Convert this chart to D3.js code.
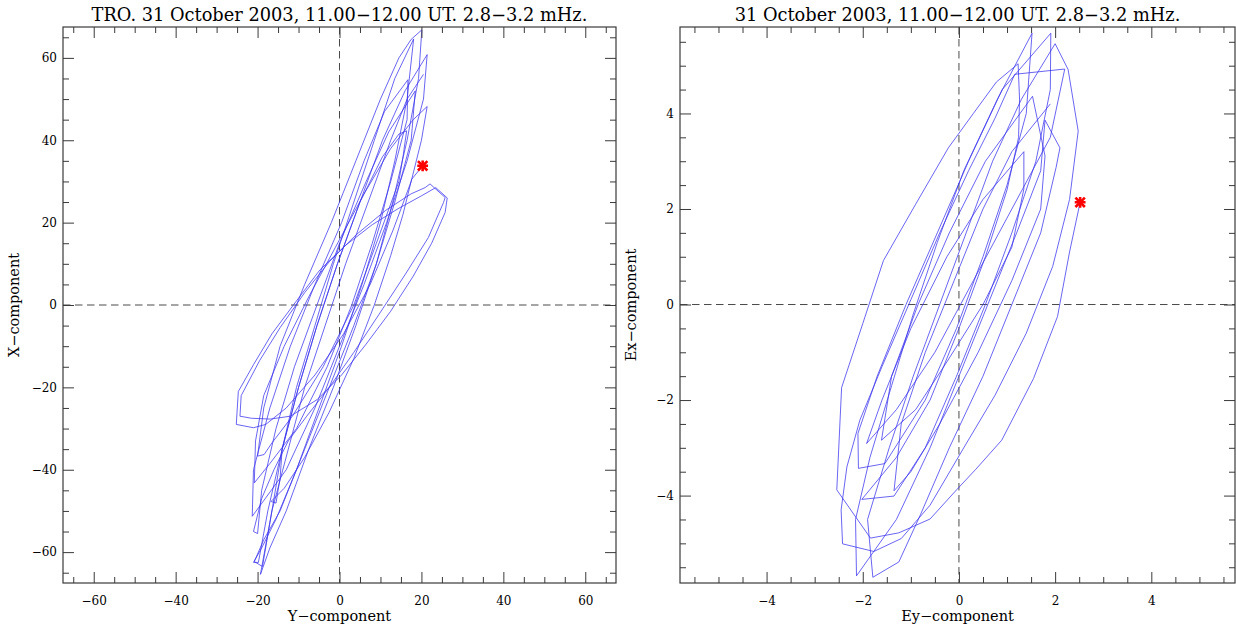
<!DOCTYPE html>
<html>
<head>
<meta charset="utf-8">
<script src="https://cdn.jsdelivr.net/npm/d3@7"></script>
<style>
  body { margin: 0; background: #fff; }
  svg { display: block; font-family: "DejaVu Serif", "Liberation Serif", serif; }
</style>
</head>
<body>
<svg id="chart" width="1236" height="628"></svg>
<script>
// ---- titles and axis names ----
const magTitle = "TRO. 31 October 2003, 11.00\u221212.00 UT. 2.8\u22123.2 mHz.";
const elecTitle = "31 October 2003, 11.00\u221212.00 UT. 2.8\u22123.2 mHz.";
const magXName = "Y\u2212component";
const magYName = "X\u2212component";
const elecXName = "Ey\u2212component";
const elecYName = "Ex\u2212component";

// ---- tick labels ----
const magTicks = [-60, -40, -20, 0, 20, 40, 60];
const elecTicks = [-4, -2, 0, 2, 4];

// ---- magnetic hodogram (nT): Y-component (horizontal) vs X-component (vertical) ----
const magY = [
  20.3, 17.6, 15.5, 12.5, 8.5, 3.5, -2.5, -8.5, -13.5, -16.7, -15.5,
  -14.5, -14.0, -10.0, -5.5, -0.5, 5.0, 10.5, 14.5, 16.4,
  15.5, 14.5, 9.0, 3.5, -4.0, -11.5, -16.5, -18.4, -20.0,
  -18.5, -14.5, -8.5, -2.0, 4.0, 10.0, 14.5, 17.5, 20.1,
  19.3, 16.5, 13.0, 9.0, 4.0, -1.5, -7.5, -13.0, -17.0, -19.3,
  -16.5, -14.0, -10.5, -6.0, -1.5, 3.5, 8.5, 13.5, 18.1,
  16.5, 13.5, 10.0, 5.5, 0.5, -5.0, -10.5, -15.5, -19.0, -21.0, -19.8,
  -17.5, -14.0, -10.0, -5.5, -0.5, 5.0, 10.5, 16.0, 21.4,
  20.5, 16.5, 11.5, 6.0, 0.0, -6.0, -13.0, -18.5, -21.3,
  -21.0, -17.0, -12.0, -6.0, 0.5, 6.0, 11.0, 16.7,
  16.5, 12.5, 8.0, 3.0, -3.0, -10.5, -17.0, -20.8,
  -20.5, -18.5, -13.5, -7.5, -1.0, 6.0, 12.5, 18.0, 21.4,
  20.0, 17.5, 13.0, 7.5, 1.0, -6.0, -13.0, -18.0, -21.0,
  -25.2, -24.7, -21.0, -16.5, -10.5, -4.8, 1.5, 8.0, 14.5, 20.0, 23.5, 26.3, 25.8,
  22.5, 18.0, 12.5, 6.5, 0.5, -5.5, -12.0, -16.9, -21.5, -24.3,
  -24.0, -19.5, -14.5, -8.5, -2.5, 4.0, 11.3, 17.5, 20.9, 22.1, 25.8, 25.4,
  21.7, 16.1, 9.7, 3.5, -2.5, -8.0, -12.5, -16.0, -19.0, -21.0, -20.0,
  -19.0, -15.5, -11.0, -5.5, 0.0, 6.5, 12.0, 18.5,
  17.5, 13.5, 9.0, 3.5, -2.5, -8.5, -14.5, -18.5, -20.8, -18.8,
  -16.5, -12.5, -8.5, -3.5, 1.5, 7.0, 12.5, 16.5, 20.5
];
const magX = [
  33.8, 30.5, 22.0, 12.0, 0.0, -13.0, -26.0, -37.0, -44.5, -47.7, -48.1,
  -42.0, -35.0, -20.0, -5.0, 10.0, 25.0, 36.0, 41.5, 42.3,
  36.0, 30.0, 15.0, 0.0, -15.0, -27.0, -33.5, -36.3, -36.7,
  -25.0, -10.0, 5.0, 20.0, 35.0, 50.0, 60.0, 64.5, 66.8,
  55.0, 40.0, 25.0, 10.0, -5.0, -20.0, -35.0, -50.0, -59.0, -65.4,
  -50.0, -35.0, -20.0, -5.0, 10.0, 25.0, 40.0, 55.0, 64.6,
  50.0, 35.0, 20.0, 5.0, -10.0, -25.0, -40.0, -52.0, -59.0, -62.5, -62.5,
  -50.0, -35.0, -20.0, -5.0, 10.0, 25.0, 40.0, 52.0, 60.8,
  50.0, 35.0, 20.0, 5.0, -10.0, -25.0, -40.0, -47.5, -51.3,
  -40.0, -25.0, -10.0, 5.0, 20.0, 35.0, 47.0, 54.7,
  45.0, 30.0, 15.0, 0.0, -15.0, -30.0, -38.5, -43.2,
  -33.0, -22.0, -10.0, 2.0, 14.0, 27.0, 38.0, 45.0, 48.2,
  40.0, 30.0, 18.0, 5.0, -7.0, -17.0, -25.0, -29.0, -29.8,
  -29.0, -21.0, -14.5, -7.0, 1.0, 8.5, 14.5, 19.5, 23.5, 26.5, 28.5, 26.0, 22.5,
  15.0, 7.0, -1.5, -9.5, -17.0, -23.0, -27.0, -27.7, -27.5, -27.0,
  -22.0, -13.5, -5.5, 3.0, 10.5, 17.0, 23.0, 27.0, 28.5, 29.4, 26.1, 24.9,
  16.4, 7.5, -2.2, -11.5, -20.0, -27.0, -33.0, -40.0, -47.0, -55.0, -55.5,
  -45.0, -30.0, -15.0, 0.0, 15.0, 30.0, 42.0, 52.0,
  40.0, 25.0, 10.0, -5.0, -20.0, -35.0, -50.0, -57.0, -62.3, -63.5,
  -50.0, -35.0, -20.0, -5.0, 10.0, 25.0, 40.0, 50.0, 56.0
];

// ---- electric hodogram (mV/m): Ey-component (horizontal) vs Ex-component (vertical) ----
const elecY = [
  2.52, 2.30, 2.05, 1.55, 0.89, 0.35, -0.05, -0.60, -1.25, -1.84,
  -2.54, -2.44, -2.00, -1.57, -0.90, -0.22, 0.30, 0.78, 1.23,
  1.26, 1.24, 1.00, 0.55, 0.00, -0.60, -1.30, -2.02, -1.35,
  -0.70, -0.05, 0.55, 1.10, 1.60, 1.90, 1.91,
  0.90, 0.20, -0.45, -1.10, -1.70, -2.10, -2.09, -1.54,
  -0.70, -0.05, 0.50, 1.00, 1.40, 1.52,
  0.80, 0.10, -0.45, -0.95, -1.40, -1.85, -2.15, -2.13,
  -1.30, -0.60, 0.00, 0.60, 1.20, 1.70, 1.79, 2.10, 2.02,
  1.70, 1.10, 0.50, -0.20, -0.80, -1.25, -1.79,
  -1.90, -1.45, -0.95, -0.40, 0.15, 0.70, 1.30, 2.00,
  2.27, 2.48, 2.30, 1.95, 1.40, 0.75, 0.10, -0.60, -1.20, -1.77, -2.42,
  -2.45, -2.33, -2.06, -1.60, -1.00, -0.40, 0.20, 0.75, 1.16, 2.20,
  1.90, 1.10, 0.30, -0.50, -1.30, -1.92,
  -1.60, -1.00, -0.25, 0.50, 1.35, 1.35,
  1.10, 0.50, -0.25, -0.90, -1.61,
  -1.40, -0.85, -0.20, 0.55, 1.53, 1.79,
  1.70, 1.10, 0.40, -0.40, -1.00, -1.35,
  -1.20, -0.70, -0.10, 0.50, 1.10, 1.90
];
const elecX = [
  2.14, 1.10, -0.25, -1.55, -2.84, -3.45, -3.88, -4.49, -4.78, -4.89,
  -3.88, -1.74, -0.40, 0.92, 2.10, 3.28, 4.00, 4.66, 5.04,
  4.30, 3.50, 2.40, 1.00, -0.50, -2.00, -3.20, -4.08, -4.01,
  -3.00, -1.50, 0.00, 1.50, 3.00, 4.50, 5.68,
  4.50, 3.00, 1.50, 0.00, -1.50, -2.70, -3.43, -3.33,
  -2.00, -0.50, 1.00, 2.50, 4.00, 5.68,
  4.30, 2.80, 1.30, -0.20, -1.70, -3.20, -4.50, -5.68,
  -4.50, -3.00, -1.50, 0.00, 1.50, 2.80, 3.86, 3.28, 2.87,
  1.50, 0.00, -1.50, -3.00, -4.40, -5.39, -5.71,
  -4.50, -3.00, -1.50, 0.00, 1.50, 3.00, 4.30, 5.46,
  4.92, 3.63, 2.20, 0.80, -0.60, -1.90, -3.00, -4.20, -4.90, -5.17, -5.01,
  -4.30, -3.40, -2.42, -1.30, 0.10, 1.50, 2.80, 3.90, 4.82, 4.93,
  3.50, 2.00, 0.50, -1.00, -2.20, -2.91,
  -2.00, -0.50, 1.00, 2.20, 3.20, 2.42,
  1.20, 0.00, -1.20, -2.20, -2.84,
  -1.50, 0.00, 1.50, 3.00, 4.36, 3.11,
  2.00, 0.50, -1.00, -2.50, -3.50, -3.90,
  -2.50, -1.00, 0.50, 2.00, 3.20, 4.20
];

// ---- panel layout ----
const panels = [
  {
    title: magTitle, xName: magXName, yName: magYName,
    xs: magY, ys: magX, ticks: magTicks, minorStep: 5,
    xDomain: [-67.5, 67.5], yDomain: [-67.5, 67.5],
    left: 63, right: 616, top: 27, bottom: 583, yNameX: 14
  },
  {
    title: elecTitle, xName: elecXName, yName: elecYName,
    xs: elecY, ys: elecX, ticks: elecTicks, minorStep: 0.5,
    xDomain: [-5.8, 5.74], yDomain: [-5.83, 5.81],
    left: 680, right: 1235, top: 27, bottom: 583, yNameX: 631
  }
];

const svg = d3.select("#chart");
const frameColor = "#3a3a3a";

function drawPanel(p) {
  const g = svg.append("g");
  const x = d3.scaleLinear().domain(p.xDomain).range([p.left, p.right]);
  const y = d3.scaleLinear().domain(p.yDomain).range([p.bottom, p.top]);

  const minorTicks = dom => {
    const lo = Math.ceil(dom[0] / p.minorStep) * p.minorStep;
    return d3.range(lo, dom[1], p.minorStep)
      .map(v => +v.toFixed(3))
      .filter(v => !p.ticks.includes(v));
  };
  const minorsX = minorTicks(p.xDomain);
  const minorsY = minorTicks(p.yDomain);

  // zero reference lines
  g.append("line")
    .attr("x1", x(0)).attr("x2", x(0)).attr("y1", p.top).attr("y2", p.bottom)
    .attr("stroke", "#4a4a4a").attr("stroke-width", 1).attr("stroke-dasharray", "7.5,4.5");
  g.append("line")
    .attr("x1", p.left).attr("x2", p.right).attr("y1", y(0)).attr("y2", y(0))
    .attr("stroke", "#4a4a4a").attr("stroke-width", 1).attr("stroke-dasharray", "7.5,4.5");

  // hodogram trace
  const line = d3.line().x(i => x(p.xs[i])).y(i => y(p.ys[i]));
  g.append("path")
    .datum(d3.range(p.xs.length))
    .attr("d", line)
    .attr("fill", "none")
    .attr("stroke", "#3d35ee")
    .attr("stroke-opacity", 0.85)
    .attr("stroke-width", 0.9)
    .attr("stroke-linejoin", "miter");

  // start marker
  const sx = x(p.xs[0]), sy = y(p.ys[0]);
  [d3.symbolTimes, d3.symbolPlus].forEach((sym, k) => {
    g.append("path")
      .attr("transform", `translate(${sx},${sy})`)
      .attr("d", d3.symbol(sym, k === 0 ? 60 : 40)())
      .attr("fill", "none")
      .attr("stroke", "#ff0000")
      .attr("stroke-width", 2.6);
  });

  // axes with inward ticks
  const fmt = d3.format("d");
  const styleAxis = sel => {
    sel.select(".domain").remove();
    sel.selectAll(".tick line").attr("stroke", frameColor);
    sel.selectAll("text").attr("fill", "#000")
      .attr("font-family", "DejaVu Serif, serif").attr("font-size", 12);
  };
  g.append("g").attr("transform", `translate(0,${p.bottom})`)
    .call(d3.axisBottom(x).tickValues(p.ticks).tickSize(-11).tickPadding(13).tickFormat(fmt))
    .call(styleAxis);
  g.append("g").attr("transform", `translate(0,${p.bottom})`)
    .call(d3.axisBottom(x).tickValues(minorsX).tickSize(-6).tickFormat(""))
    .call(styleAxis);
  g.append("g").attr("transform", `translate(0,${p.top})`)
    .call(d3.axisTop(x).tickValues(p.ticks).tickSize(-11).tickFormat(""))
    .call(styleAxis);
  g.append("g").attr("transform", `translate(0,${p.top})`)
    .call(d3.axisTop(x).tickValues(minorsX).tickSize(-6).tickFormat(""))
    .call(styleAxis);
  g.append("g").attr("transform", `translate(${p.left},0)`)
    .call(d3.axisLeft(y).tickValues(p.ticks).tickSize(-11).tickPadding(6).tickFormat(fmt))
    .call(styleAxis);
  g.append("g").attr("transform", `translate(${p.left},0)`)
    .call(d3.axisLeft(y).tickValues(minorsY).tickSize(-6).tickFormat(""))
    .call(styleAxis);
  g.append("g").attr("transform", `translate(${p.right},0)`)
    .call(d3.axisRight(y).tickValues(p.ticks).tickSize(-11).tickFormat(""))
    .call(styleAxis);
  g.append("g").attr("transform", `translate(${p.right},0)`)
    .call(d3.axisRight(y).tickValues(minorsY).tickSize(-6).tickFormat(""))
    .call(styleAxis);

  // frame
  g.append("rect")
    .attr("x", p.left).attr("y", p.top)
    .attr("width", p.right - p.left).attr("height", p.bottom - p.top)
    .attr("fill", "none").attr("stroke", frameColor).attr("stroke-width", 1.2);

  // title and axis names
  const cx = (p.left + p.right) / 2;
  g.append("text")
    .attr("x", cx).attr("y", 21)
    .attr("text-anchor", "middle")
    .attr("font-size", 17.8)
    .attr("fill", "#000")
    .text(p.title);
  g.append("text")
    .attr("x", cx).attr("y", 621)
    .attr("text-anchor", "middle")
    .attr("font-size", 14.5)
    .attr("fill", "#000")
    .text(p.xName);
  g.append("text")
    .attr("transform", `translate(${p.yNameX},${(p.top + p.bottom) / 2}) rotate(-90)`)
    .attr("text-anchor", "middle")
    .attr("dy", "0.35em")
    .attr("font-size", 14.5)
    .attr("fill", "#000")
    .text(p.yName);
}

panels.forEach(drawPanel);
</script>
</body>
</html>
